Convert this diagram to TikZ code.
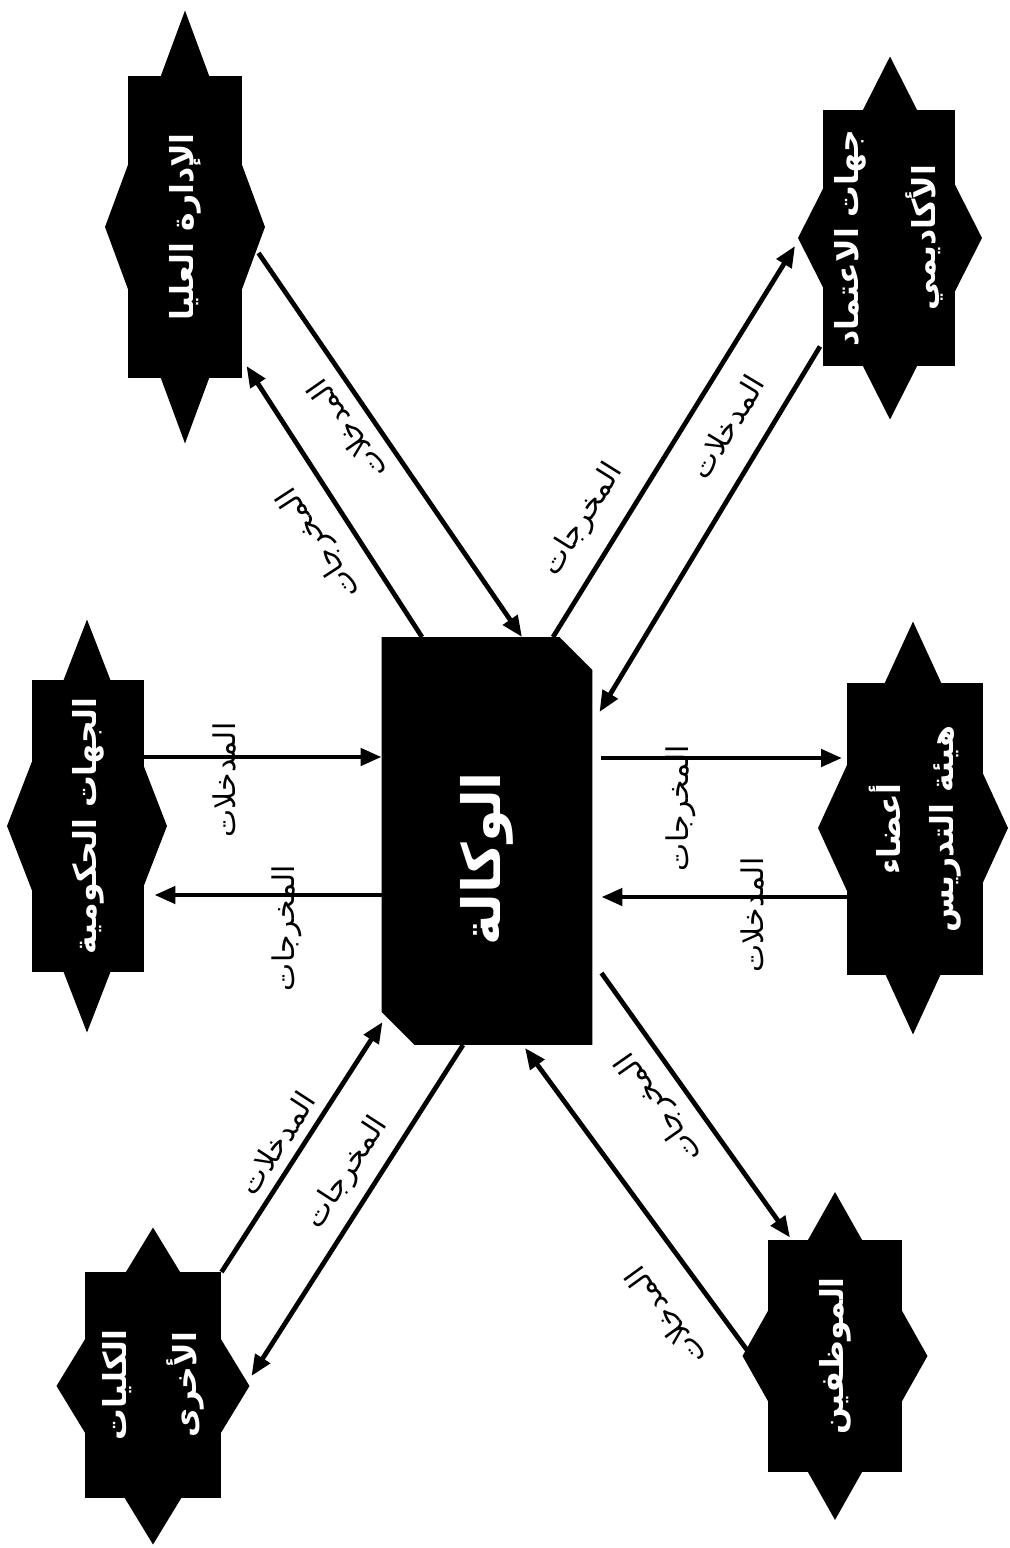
\documentclass[tikz,border=0pt]{standalone}
\usepackage{fontspec}
\usepackage{graphicx}
\newfontfamily\arabicfont[Script=Arabic]{DejaVu Sans}
\TeXXeTstate=1
\usetikzlibrary{shapes.geometric,shapes.misc,arrows.meta,calc}

% text turned a quarter to the left, as in the scan
\newcommand{\vtext}[1]{\rotatebox{90}{#1}}
\newcommand{\vtwo}[3][30pt]{\rotatebox{90}{\vbox{\baselineskip=#1\lineskiplimit=-\maxdimen\halign{\hfil##\hfil\cr#2\cr#3\cr}}}}

\begin{document}
\begin{tikzpicture}[
    x=0.02cm, y=-0.02cm,
    spike/.style={diamond, fill=black, inner sep=0, outer sep=0},
    box/.style={rectangle, fill=black, text=white, inner sep=0, outer sep=0, font=\arabicfont\bfseries\fontsize{18}{22}\selectfont},
    hub/.style={chamfered rectangle, chamfered rectangle corners={north east,south west}, chamfered rectangle xsep=0.33cm, chamfered rectangle ysep=0.33cm, fill=black, text=white, inner sep=0, outer sep=0, font=\arabicfont\bfseries\fontsize{30}{36}\selectfont},
    arrow/.style={-{Triangle[length=4.2mm,width=3.4mm]}, line width=2.7pt},
    lbl/.style={inner sep=0, font=\arabicfont\fontsize{17}{20}\selectfont}
]
    \useasboundingbox (0,0) rectangle (1010,1548);

    % outer bodies
    \node[spike, minimum width=3.2cm, minimum height=8.66cm] (admin-s) at (185,227) {};
    \node[box, minimum width=2.3cm, minimum height=6.04cm] (admin) at (185,227) {\vtext{\beginR الإدارة العليا\endR}};

    \node[spike, minimum width=3.68cm, minimum height=7.26cm] (accred-s) at (890,238) {};
    \node[box, minimum width=2.64cm, minimum height=5.14cm] (accred) at (889,238) {\vtwo[44pt]{\beginR جهات الاعتماد\endR}{\beginR الأكاديمي\endR}};

    \node[spike, minimum width=3.2cm, minimum height=8.26cm] (gov-s) at (87,826) {};
    \node[box, minimum width=2.26cm, minimum height=5.84cm] (gov) at (88,826) {\vtext{\beginR الجهات الحكومية\endR}};

    \node[spike, minimum width=3.8cm, minimum height=8.26cm] (faculty-s) at (913,828) {};
    \node[box, minimum width=2.72cm, minimum height=5.84cm] (faculty) at (915,829) {\vtwo[30pt]{\beginR أعضاء\endR}{\beginR هيئة التدريس\endR}};

    \node[spike, minimum width=3.86cm, minimum height=6.34cm] (colleges-s) at (153,1386) {};
    \node[box, minimum width=2.74cm, minimum height=4.52cm] (colleges) at (153,1385) {\vtwo[40pt]{\beginR الكليات\endR}{\beginR الأخرى\endR}};

    \node[spike, minimum width=3.7cm, minimum height=6.56cm] (staff-s) at (835,1356) {};
    \node[box, minimum width=2.68cm, minimum height=4.66cm] (staff) at (835,1356) {\vtext{\beginR الموظفين\endR}};

    % the agency
    \node[hub, minimum width=4.22cm, minimum height=8.16cm] (agency) at (487,841) {\vtext{\beginR الوكالة\endR\hspace{0.7cm}}};

    % flows
    \draw[arrow] ($(admin.east)+(16,26)$) -- ($(agency.north)+(35,0)$);
    \draw[arrow] ($(agency.north)+(-65,0)$) -- ($(admin.south east)+(4,-12)$);
    \draw[arrow] ($(agency.north)+(66,0)$) -- ($(accred.west)+(-28,8)$);
    \draw[arrow] ($(accred.south west)+(-3,-20)$) -- ($(agency.east)+(7,-129)$);
    \draw[arrow] ($(gov.east)+(0,-69)$) coordinate (e1) -- (e1 -| agency.west);
    \draw[arrow] ($(agency.west)+(0,54)$) coordinate (f1) -- ($(f1 -| gov.east)+(10,0)$);
    \draw[arrow] ($(agency.east)+(9,-83)$) coordinate (g1) -- ($(g1 -| faculty.west)+(-5,0)$);
    \draw[arrow] ($(faculty.west)+(0,68)$) coordinate (h1) -- ($(h1 -| agency.east)+(9,0)$);
    \draw[arrow] (colleges.north east) -- ($(agency.west)+(1,181)$);
    \draw[arrow] ($(agency.south)+(-24,0)$) -- ($(colleges.east)+(30,-9)$);
    \draw[arrow] ($(agency.east)+(9,132)$) -- ($(staff.north west)+(22,-2)$);
    \draw[arrow] ($(staff.west)+(-21,-6)$) -- ($(agency.south)+(38,3)$);

    % labels
    \node[lbl, rotate=125] (inA) at (347,430) {\beginR المدخلات\endR};
    \node[lbl, rotate=123] (outB) at (320,543) {\beginR المخرجات\endR};
    \node[lbl, rotate=58] (outC) at (583,520) {\beginR المخرجات\endR};
    \node[lbl, rotate=59] (inD) at (727,427) {\beginR المدخلات\endR};
    \node[lbl, rotate=90] (inE) at (225,780) {\beginR المدخلات\endR};
    \node[lbl, rotate=90] (outF) at (287,928) {\beginR المخرجات\endR};
    \node[lbl, rotate=90] (outG) at (681,808) {\beginR المخرجات\endR};
    \node[lbl, rotate=90] (inH) at (753,915) {\beginR المدخلات\endR};
    \node[lbl, rotate=57] (inI) at (277,1143) {\beginR المدخلات\endR};
    \node[lbl, rotate=57] (outJ) at (347,1173) {\beginR المخرجات\endR};
    \node[lbl, rotate=125] (outK) at (660,1107) {\beginR المخرجات\endR};
    \node[lbl, rotate=126] (inL) at (665,1317) {\beginR المدخلات\endR};
\end{tikzpicture}
\end{document}
